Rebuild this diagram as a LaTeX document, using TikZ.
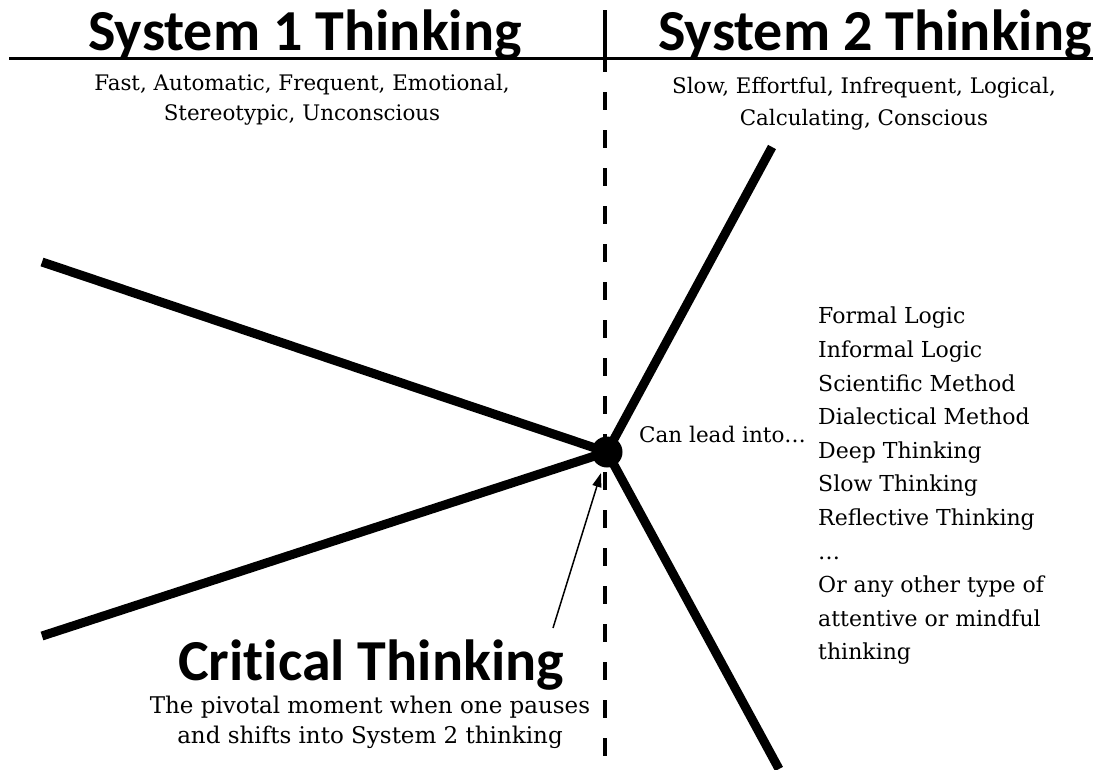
\documentclass[tikz,border=0pt]{standalone}
\usepackage{fontspec}
\setmainfont{DejaVu Serif}
\newfontfamily\headfont{Carlito}[Ligatures=NoCommon]
\usetikzlibrary{arrows.meta}
\begin{document}
\begin{tikzpicture}[x=1pt,y=-1pt,
  heading/.style={inner sep=0pt,font=\headfont\bfseries\fontsize{58}{60}\selectfont},
  desc/.style={inner sep=0pt,align=center,font=\fontsize{21.4}{31}\selectfont},
  listtext/.style={inner sep=0pt,align=left,font=\fontsize{22}{33.6}\selectfont},
  spoke/.style={line width=9pt},
  rule/.style={line width=3pt},
  divider/.style={line width=4pt,dash pattern=on 18pt off 20pt},
]
\useasboundingbox (0,0) rectangle (1100,769);

% headings and the top rule
\node[heading,anchor=base] (s1) at (305,50) {System 1 Thinking};
\node[heading,anchor=base] (s2) at (875,50) {System 2 Thinking};
\coordinate (ruleL) at (9,58);
\coordinate (ruleR) at (1093,58);
\draw[rule] (ruleL) -- (ruleR);

% divider between the two systems
\coordinate (divTop) at (605,10);
\coordinate (divMid) at (605,58);
\coordinate (divBot) at (605,760);
\draw[line width=4pt] (divTop) -- (divMid);
\draw[divider] ([yshift=4pt]divMid) -- (divBot);

% descriptions
\node[desc,anchor=base] (d1) at (302,90) {Fast, Automatic, Frequent, Emotional,};
\node[desc,anchor=base] (d1b) at (302,120) {Stereotypic, Unconscious};
\node[desc,anchor=base] (d2) at (864,93) {Slow, Effortful, Infrequent, Logical,};
\node[desc,anchor=base] (d2b) at (864,125) {Calculating, Conscious};

% pivot and spokes
\node[circle,fill=black,minimum size=31pt,inner sep=0pt] (pivot) at (607,452) {};
\coordinate (ul) at (42,262);
\coordinate (ll) at (42,636);
\coordinate (ur) at (772,147);
\coordinate (lr) at (779,769);
\draw[spoke] (ul) -- (pivot.center);
\draw[spoke] (ll) -- (pivot.center);
\draw[spoke] (ur) -- (pivot.center);
\draw[spoke] (lr) -- (pivot.center);

% what it leads into
\node[inner sep=0pt,anchor=base west,font=\fontsize{21.5}{24}\selectfont] (lead) at (639,442) {Can lead into…};
\node[listtext,anchor=north west] (list) at (818,307) {Formal Logic\\Informal Logic\\Scientific Method\\Dialectical Method\\Deep Thinking\\Slow Thinking\\Reflective Thinking\\…\\Or any other type of\\attentive or mindful\\thinking};

% critical thinking
\node[inner sep=0pt,anchor=base,font=\headfont\bfseries\fontsize{58}{60}\selectfont] (ct) at (371,680) {Critical Thinking};
\node[desc,anchor=base,font=\fontsize{23}{30}\selectfont] (ctd) at (370,713) {The pivotal moment when one pauses};
\node[desc,anchor=base,font=\fontsize{23}{30}\selectfont] (ctdb) at (370,743) {and shifts into System 2 thinking};
\draw[line width=1.5pt,-{Triangle[length=14pt,width=9pt]}] (553,628) -- (601,473);
\end{tikzpicture}
\end{document}
